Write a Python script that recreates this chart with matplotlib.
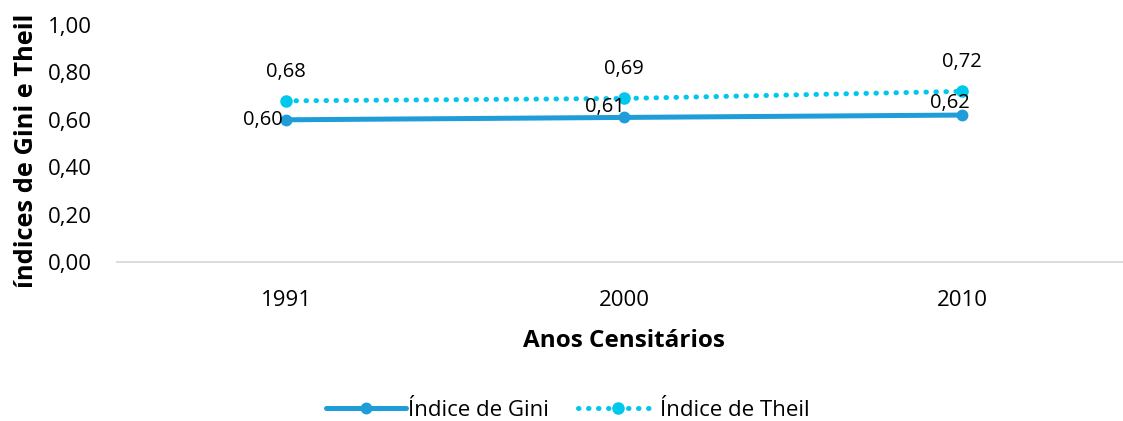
import matplotlib.pyplot as plt
from matplotlib.ticker import FuncFormatter

# dados
anos = ["1991", "2000", "2010"]
gini = [0.60, 0.61, 0.62]
theil = [0.68, 0.69, 0.72]

corGini = "#1F9DD9"
corTheil = "#00C8EC"

plt.rcParams['font.family'] = ['Open Sans', 'DejaVu Sans']

def virgula(v, pos=None):
    return ("%.2f" % v).replace(".", ",")

fig = plt.figure(figsize=(11.23, 4.21), dpi=100)
ax = fig.add_axes([117/1123., 159/421., 1014/1123., 237/421.])

x = range(len(anos))
ax.plot(x, gini, color=corGini, lw=3.6, marker="o", ms=7.5,
        solid_capstyle="round", label="Índice de Gini")
ax.plot(x, theil, color=corTheil, lw=3.6, ls=(0, (0.1, 1.9)), marker="o", ms=8,
        dash_capstyle="round", label="Índice de Theil")

# rotulos dos dados
offGini = [(-23, 0), (-19, 10), (-12, 12)]
for i, v in enumerate(gini):
    ax.annotate(virgula(v), (i, v), xytext=offGini[i], textcoords="offset pixels",
                ha="center", va="center", fontsize=14.5)
for i, v in enumerate(theil):
    ax.annotate(virgula(v), (i, v), xytext=(0, 29), textcoords="offset pixels",
                ha="center", va="center", fontsize=14.5)

ax.set_xlim(-0.5, 2.5)
ax.set_ylim(0, 1)
ax.set_yticks([0, 0.2, 0.4, 0.6, 0.8, 1.0])
ax.yaxis.set_major_formatter(FuncFormatter(virgula))
ax.set_xticks(list(x))
ax.set_xticklabels(anos)
ax.tick_params(axis="both", length=0, labelsize=16, colors="#000000")
ax.tick_params(axis="x", pad=20)
ax.tick_params(axis="y", pad=18)

for s in ["top", "right", "left"]:
    ax.spines[s].set_visible(False)
ax.spines["bottom"].set_color("#D9D9D9")
ax.spines["bottom"].set_linewidth(1.3)

ax.set_xlabel("Anos Censitários", fontsize=17.5, fontweight="bold", labelpad=13)
ax.set_ylabel("índices de Gini e Theil", fontsize=18.3, fontweight="bold")
ax.yaxis.set_label_coords(-0.077, 0.47)

fig.legend(loc="center", bbox_to_anchor=(568/1123., 1 - 410/421.), ncol=2,
           frameon=False, fontsize=16, handlelength=3.6, handletextpad=0.1,
           columnspacing=1.3)

plt.savefig("out.png", dpi=100)
